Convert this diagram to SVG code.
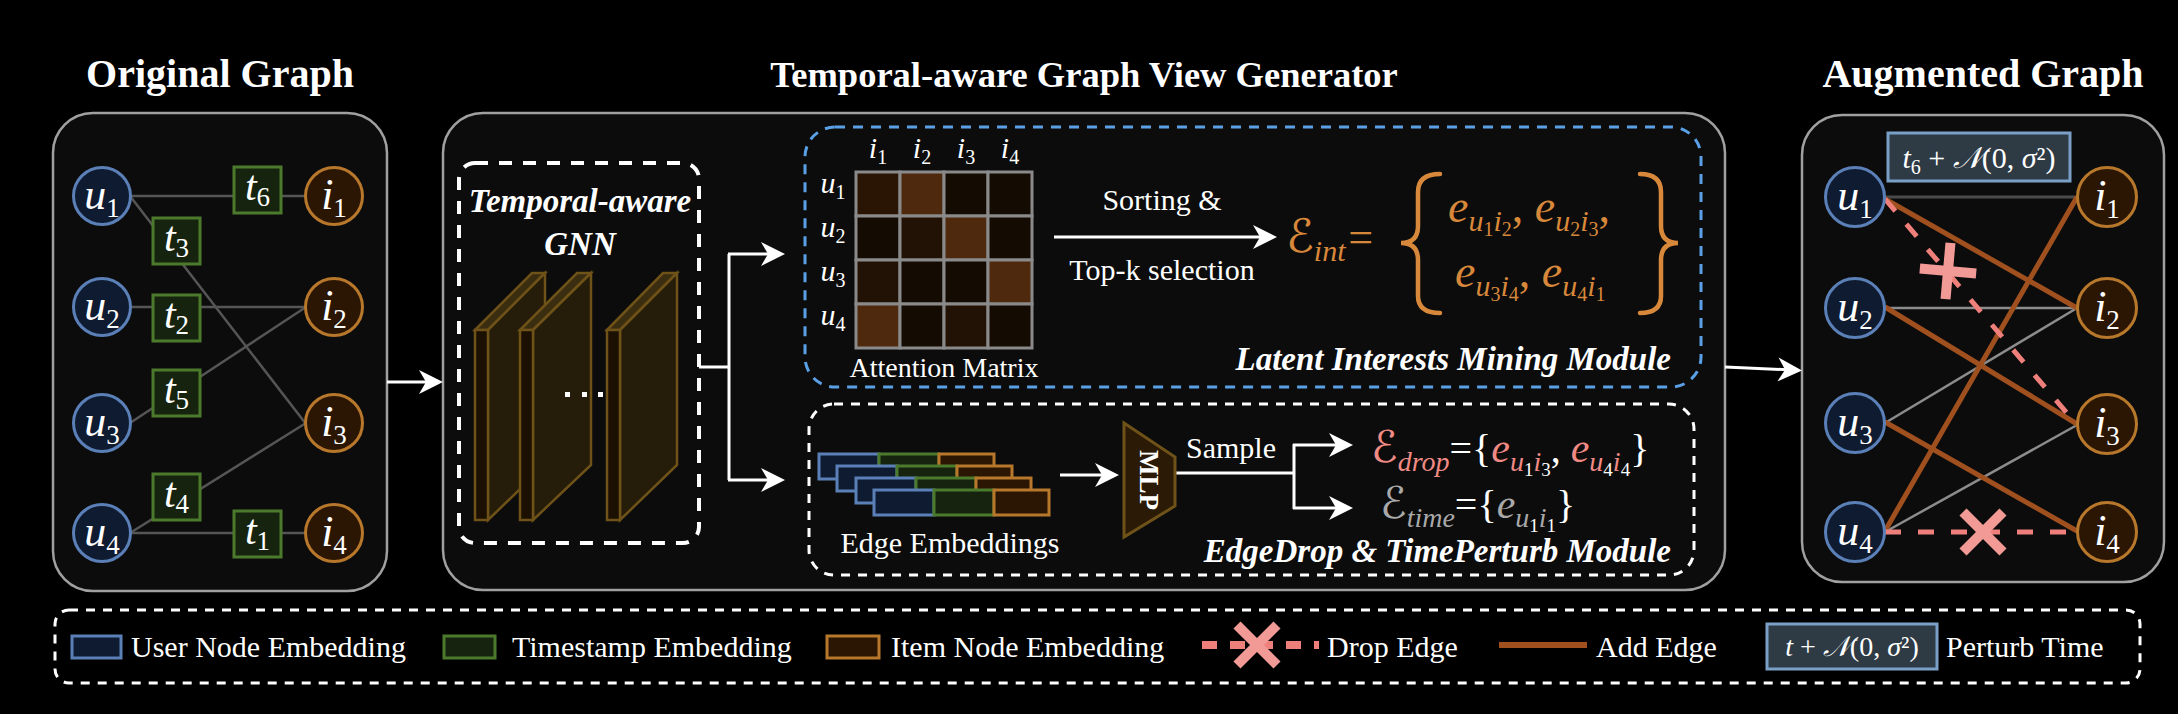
<svg xmlns="http://www.w3.org/2000/svg" width="2178" height="714" viewBox="0 0 2178 714">
<style>
.title{font-family:'Liberation Serif','Times New Roman',serif;font-weight:bold;font-size:40px;fill:#fff;text-anchor:middle}
.panel{fill:#0c0c0c;stroke:#a0a0a0;stroke-width:2.5}
.ml{font-family:'Liberation Serif','DejaVu Serif',serif;font-style:italic;fill:#fff;text-anchor:middle}
.up{font-style:normal}
.user{fill:#0f1b30;stroke:#5b80b8;stroke-width:3}
.item{fill:#2b1604;stroke:#b8782c;stroke-width:3}
.time{fill:#16240f;stroke:#4c7a2c;stroke-width:3}
.edge{stroke:#555;stroke-width:2.5;fill:none}
.arr{stroke:#fff;stroke-width:3;fill:none;marker-end:url(#ah)}
.txt{font-family:'Liberation Serif','Times New Roman',serif;fill:#fff}
.bi{font-family:'Liberation Serif','Times New Roman',serif;font-weight:bold;font-style:italic;fill:#fff}
.slabF{fill:#1c1003;stroke:#6e5218;stroke-width:2.5}
.slabS{fill:#251c09;stroke:#6e5218;stroke-width:2.5}
.slabT{fill:#3a2d10;stroke:#6e5218;stroke-width:2.5}
.cell{stroke:#8a8a8a;stroke-width:3}
.add{stroke:#a0501e;stroke-width:5;fill:none}
.drop{stroke:#ee7f7b;stroke-width:5;fill:none;stroke-dasharray:16 17}
.xm{stroke:#f29a96;stroke-width:10;fill:none}
.gl{stroke:#8c8c8c;stroke-width:2.5;fill:none}
.math{font-family:'Liberation Serif','DejaVu Serif',serif;font-style:italic}
.scr{font-family:'DejaVu Sans','Liberation Serif',serif;font-style:normal}
.pert{fill:#2e3a44;stroke:#7aa0c8;stroke-width:3}
</style>
<defs>
<marker id="ah" markerUnits="userSpaceOnUse" markerWidth="28" markerHeight="26" viewBox="-26 -13 28 26" refX="-10" refY="0" orient="auto">
<path d="M0,0 L-24,-12 L-17,0 L-24,12 Z" fill="#fff"/>
</marker>
</defs>
<rect width="2178" height="714" fill="#000"/>

<!-- titles -->
<text class="title" x="220" y="87">Original Graph</text>
<text class="title" x="1084" y="87" font-size="36.5" style="font-size:36.5px">Temporal-aware Graph View Generator</text>
<text class="title" x="1983" y="87">Augmented Graph</text>

<!-- panels -->
<g id="panel-original"><rect class="panel" x="53" y="113" width="334" height="478" rx="40"/></g>
<g id="panel-generator"><rect class="panel" x="443" y="113" width="1282" height="477" rx="40"/></g>
<g id="panel-augmented"><rect class="panel" x="1802" y="115" width="362" height="467" rx="40"/></g>

<!-- connectors -->
<g id="connectors">
  <!-- original graph edges -->
  <line class="edge" x1="130" y1="196" x2="306" y2="196"/>
  <line class="edge" x1="130" y1="196" x2="306" y2="424"/>
  <line class="edge" x1="130" y1="307" x2="306" y2="307"/>
  <line class="edge" x1="130" y1="423" x2="306" y2="307"/>
  <line class="edge" x1="130" y1="533" x2="306" y2="423"/>
  <line class="edge" x1="130" y1="533" x2="306" y2="533"/>
  <!-- flow arrows -->
  <line class="arr" x1="387" y1="382" x2="433" y2="382"/>
  <polyline points="699,367 729,367" stroke="#fff" stroke-width="3" fill="none"/>
  <line x1="729" y1="254" x2="729" y2="480" stroke="#fff" stroke-width="3"/>
  <line class="arr" x1="728" y1="254" x2="775" y2="254"/>
  <line class="arr" x1="728" y1="480" x2="775" y2="480"/>
  <line class="arr" x1="1054" y1="237" x2="1267" y2="237"/>
  <line class="arr" x1="1060" y1="475" x2="1109" y2="475"/>
  <line x1="1175" y1="473" x2="1294" y2="473" stroke="#fff" stroke-width="3"/>
  <line x1="1294" y1="444" x2="1294" y2="509" stroke="#fff" stroke-width="3"/>
  <line class="arr" x1="1293" y1="445" x2="1343" y2="445"/>
  <line class="arr" x1="1293" y1="508" x2="1343" y2="508"/>
  <line class="arr" x1="1725" y1="367" x2="1792" y2="370"/>
  <!-- augmented graph edges -->
  <line x1="1885" y1="197" x2="2077" y2="197" stroke="#4a4a4a" stroke-width="3"/>
  <line class="gl" x1="1885" y1="308" x2="2077" y2="308"/>
  <line class="gl" x1="1885" y1="423" x2="2077" y2="308"/>
  <line class="gl" x1="1885" y1="532" x2="2077" y2="425"/>
  <line class="add" x1="1885" y1="199" x2="2077" y2="308"/>
  <line class="add" x1="1885" y1="307" x2="2077" y2="424"/>
  <line class="add" x1="1885" y1="422" x2="2077" y2="531"/>
  <line class="add" x1="1885" y1="531" x2="2077" y2="197"/>
  <line class="drop" x1="1885" y1="199" x2="2077" y2="425"/>
  <line class="drop" x1="1885" y1="532" x2="2077" y2="532"/>
  <g transform="translate(1948,271) rotate(50)">
    <line class="xm" x1="-20" y1="-20" x2="20" y2="20"/>
    <line class="xm" x1="20" y1="-20" x2="-20" y2="20"/>
  </g>
  <g transform="translate(1983,532)">
    <line class="xm" x1="-20" y1="-20" x2="20" y2="20"/>
    <line class="xm" x1="20" y1="-20" x2="-20" y2="20"/>
  </g>
</g>

<!-- original graph nodes -->
<g id="orig-u1"><circle class="user" cx="102" cy="196" r="28.5"/><text class="ml" x="102" y="209" font-size="44">u<tspan class="up" font-size="27" dy="8">1</tspan></text></g>
<g id="orig-u2"><circle class="user" cx="102" cy="307" r="28.5"/><text class="ml" x="102" y="320" font-size="44">u<tspan class="up" font-size="27" dy="8">2</tspan></text></g>
<g id="orig-u3"><circle class="user" cx="102" cy="423" r="28.5"/><text class="ml" x="102" y="436" font-size="44">u<tspan class="up" font-size="27" dy="8">3</tspan></text></g>
<g id="orig-u4"><circle class="user" cx="102" cy="533" r="28.5"/><text class="ml" x="102" y="546" font-size="44">u<tspan class="up" font-size="27" dy="8">4</tspan></text></g>
<g id="orig-i1"><circle class="item" cx="334" cy="196" r="28.5"/><text class="ml" x="334" y="209" font-size="44">i<tspan class="up" font-size="27" dy="8">1</tspan></text></g>
<g id="orig-i2"><circle class="item" cx="334" cy="307" r="28.5"/><text class="ml" x="334" y="320" font-size="44">i<tspan class="up" font-size="27" dy="8">2</tspan></text></g>
<g id="orig-i3"><circle class="item" cx="334" cy="423" r="28.5"/><text class="ml" x="334" y="436" font-size="44">i<tspan class="up" font-size="27" dy="8">3</tspan></text></g>
<g id="orig-i4"><circle class="item" cx="334" cy="533" r="28.5"/><text class="ml" x="334" y="546" font-size="44">i<tspan class="up" font-size="27" dy="8">4</tspan></text></g>
<g id="orig-t6"><rect class="time" x="234" y="167" width="47" height="46"/><text class="ml" x="257.5" y="200" font-size="42">t<tspan class="up" font-size="27" dy="6">6</tspan></text></g>
<g id="orig-t3"><rect class="time" x="153" y="218" width="47" height="46"/><text class="ml" x="176.5" y="251" font-size="42">t<tspan class="up" font-size="27" dy="6">3</tspan></text></g>
<g id="orig-t2"><rect class="time" x="153" y="295" width="47" height="46"/><text class="ml" x="176.5" y="328" font-size="42">t<tspan class="up" font-size="27" dy="6">2</tspan></text></g>
<g id="orig-t5"><rect class="time" x="153" y="370" width="47" height="46"/><text class="ml" x="176.5" y="403" font-size="42">t<tspan class="up" font-size="27" dy="6">5</tspan></text></g>
<g id="orig-t4"><rect class="time" x="153" y="474" width="47" height="46"/><text class="ml" x="176.5" y="507" font-size="42">t<tspan class="up" font-size="27" dy="6">4</tspan></text></g>
<g id="orig-t1"><rect class="time" x="234" y="511" width="47" height="46"/><text class="ml" x="257.5" y="544" font-size="42">t<tspan class="up" font-size="27" dy="6">1</tspan></text></g>

<!-- Temporal-aware GNN -->
<g id="gnn">
  <rect x="459" y="163" width="240" height="380" rx="16" fill="none" stroke="#fff" stroke-width="4" stroke-dasharray="13 11"/>
  <text class="bi" x="580" y="212" font-size="33" text-anchor="middle">Temporal-aware</text>
  <text class="bi" x="580" y="255" font-size="33" text-anchor="middle">GNN</text>
  <polygon class="slabT" points="475,330 532,273 545,273 488,330"/>
  <polygon class="slabS" points="488,330 545,273 545,465 488,520"/>
  <rect class="slabF" x="475" y="330" width="13" height="190"/>
  <polygon class="slabT" points="520,330 577,273 591,273 533,330"/>
  <polygon class="slabS" points="533,330 591,273 591,465 533,520"/>
  <rect class="slabF" x="520" y="330" width="13" height="190"/>
  <rect x="565" y="392" width="5" height="5" fill="#fff"/>
  <rect x="582" y="392" width="5" height="5" fill="#fff"/>
  <rect x="598" y="392" width="5" height="5" fill="#fff"/>
  <polygon class="slabT" points="607,330 663,273 677,273 620,330"/>
  <polygon class="slabS" points="620,330 677,273 677,465 620,520"/>
  <rect class="slabF" x="607" y="330" width="13" height="190"/>
</g>

<!-- Latent Interests Mining Module -->
<g id="latent-module">
  <rect x="805" y="127" width="896" height="260" rx="30" fill="none" stroke="#5aa0e6" stroke-width="3" stroke-dasharray="10 8"/>
  <g id="attention-matrix">
    <rect class="cell" x="856" y="172" width="44" height="44" fill="#2a1505"/>
    <rect class="cell" x="900" y="172" width="44" height="44" fill="#4f290d"/>
    <rect class="cell" x="944" y="172" width="44" height="44" fill="#140b03"/>
    <rect class="cell" x="988" y="172" width="44" height="44" fill="#140b03"/>
    <rect class="cell" x="856" y="216" width="44" height="44" fill="#140b03"/>
    <rect class="cell" x="900" y="216" width="44" height="44" fill="#221205"/>
    <rect class="cell" x="944" y="216" width="44" height="44" fill="#4f290d"/>
    <rect class="cell" x="988" y="216" width="44" height="44" fill="#140b03"/>
    <rect class="cell" x="856" y="260" width="44" height="44" fill="#221205"/>
    <rect class="cell" x="900" y="260" width="44" height="44" fill="#140b03"/>
    <rect class="cell" x="944" y="260" width="44" height="44" fill="#140b03"/>
    <rect class="cell" x="988" y="260" width="44" height="44" fill="#4f290d"/>
    <rect class="cell" x="856" y="304" width="44" height="44" fill="#4f290d"/>
    <rect class="cell" x="900" y="304" width="44" height="44" fill="#140b03"/>
    <rect class="cell" x="944" y="304" width="44" height="44" fill="#221205"/>
    <rect class="cell" x="988" y="304" width="44" height="44" fill="#140b03"/>
    <text class="ml" x="878" y="158" font-size="30">i<tspan class="up" font-size="20" dy="6">1</tspan></text>
    <text class="ml" x="922" y="158" font-size="30">i<tspan class="up" font-size="20" dy="6">2</tspan></text>
    <text class="ml" x="966" y="158" font-size="30">i<tspan class="up" font-size="20" dy="6">3</tspan></text>
    <text class="ml" x="1010" y="158" font-size="30">i<tspan class="up" font-size="20" dy="6">4</tspan></text>
    <text class="ml" x="833" y="193" font-size="30">u<tspan class="up" font-size="20" dy="6">1</tspan></text>
    <text class="ml" x="833" y="237" font-size="30">u<tspan class="up" font-size="20" dy="6">2</tspan></text>
    <text class="ml" x="833" y="281" font-size="30">u<tspan class="up" font-size="20" dy="6">3</tspan></text>
    <text class="ml" x="833" y="325" font-size="30">u<tspan class="up" font-size="20" dy="6">4</tspan></text>
    <text class="txt" x="944" y="377" font-size="28" text-anchor="middle">Attention Matrix</text>
  </g>
  <text class="txt" x="1162" y="210" font-size="30" text-anchor="middle">Sorting &amp;</text>
  <text class="txt" x="1162" y="280" font-size="30" text-anchor="middle">Top-k selection</text>
  <g id="e-int" fill="#d8883a">
    <text x="1286" y="252" font-size="46"><tspan class="scr">ℰ</tspan><tspan class="math" font-size="30" dy="9">int</tspan><tspan class="math" font-size="44" dy="-9" font-style="normal">=</tspan></text>
    <path d="M1440,174 Q1418,174 1418,192 L1418,226 Q1418,243 1401,243 Q1418,243 1418,260 L1418,296 Q1418,313 1440,313" fill="none" stroke="#d8883a" stroke-width="4.5" stroke-linecap="round"/>
    <path d="M1640,174 Q1661,174 1661,192 L1661,226 Q1661,243 1678,243 Q1661,243 1661,260 L1661,296 Q1661,313 1640,313" fill="none" stroke="#d8883a" stroke-width="4.5" stroke-linecap="round"/>
    <text class="math" x="1448" y="222" font-size="46">e<tspan font-size="30" dy="9">u</tspan><tspan class="up" font-size="20" dy="5">1</tspan><tspan font-size="30" dy="-5">i</tspan><tspan class="up" font-size="20" dy="5">2</tspan><tspan class="up" dy="-14">, </tspan>e<tspan font-size="30" dy="9">u</tspan><tspan class="up" font-size="20" dy="5">2</tspan><tspan font-size="30" dy="-5">i</tspan><tspan class="up" font-size="20" dy="5">3</tspan><tspan class="up" dy="-14">,</tspan></text>
    <text class="math" x="1455" y="287" font-size="46">e<tspan font-size="30" dy="9">u</tspan><tspan class="up" font-size="20" dy="5">3</tspan><tspan font-size="30" dy="-5">i</tspan><tspan class="up" font-size="20" dy="5">4</tspan><tspan class="up" dy="-14">, </tspan>e<tspan font-size="30" dy="9">u</tspan><tspan class="up" font-size="20" dy="5">4</tspan><tspan font-size="30" dy="-5">i</tspan><tspan class="up" font-size="20" dy="5">1</tspan></text>
  </g>
  <text class="bi" x="1671" y="370" font-size="33" text-anchor="end">Latent Interests Mining Module</text>
</g>

<!-- EdgeDrop & TimePerturb Module -->
<g id="edgedrop-module">
  <rect x="809" y="404" width="885" height="171" rx="25" fill="none" stroke="#fff" stroke-width="3" stroke-dasharray="9 8"/>
  <g id="edge-embeddings">
    <rect class="user" x="819" y="454" width="60" height="25"/><rect class="time" x="879" y="454" width="60" height="25"/><rect class="item" x="939" y="454" width="55" height="25"/>
    <rect class="user" x="837" y="466" width="60" height="25"/><rect class="time" x="897" y="466" width="60" height="25"/><rect class="item" x="957" y="466" width="55" height="25"/>
    <rect class="user" x="856" y="478" width="60" height="25"/><rect class="time" x="916" y="478" width="60" height="25"/><rect class="item" x="976" y="478" width="55" height="25"/>
    <rect class="user" x="874" y="490" width="60" height="25"/><rect class="time" x="934" y="490" width="60" height="25"/><rect class="item" x="994" y="490" width="55" height="25"/>
    <text class="txt" x="950" y="553" font-size="30" text-anchor="middle">Edge Embeddings</text>
  </g>
  <g id="mlp">
    <polygon points="1124,423 1175,457 1175,506 1124,537" fill="#2a1a06" stroke="#6e5218" stroke-width="3"/>
    <text class="txt" transform="translate(1149,480) rotate(90)" y="9" font-size="27" font-weight="bold" text-anchor="middle">MLP</text>
  </g>
  <text class="txt" x="1231" y="458" font-size="30" text-anchor="middle">Sample</text>
  <text x="1371" y="462" font-size="44" fill="#f08a84"><tspan class="scr">ℰ</tspan><tspan class="math" font-size="28" dy="9">drop</tspan><tspan class="txt" fill="#f08a84" font-size="40" dy="-9">={</tspan><tspan class="math" font-size="42">e</tspan><tspan class="math" font-size="28" dy="9">u</tspan><tspan class="txt" fill="#f08a84" font-size="19" dy="5">1</tspan><tspan class="math" font-size="28" dy="-5">i</tspan><tspan class="txt" fill="#f08a84" font-size="19" dy="5">3</tspan><tspan class="txt" fill="#f08a84" font-size="40" dy="-14">, </tspan><tspan class="math" font-size="42">e</tspan><tspan class="math" font-size="28" dy="9">u</tspan><tspan class="txt" fill="#f08a84" font-size="19" dy="5">4</tspan><tspan class="math" font-size="28" dy="-5">i</tspan><tspan class="txt" fill="#f08a84" font-size="19" dy="5">4</tspan><tspan class="txt" fill="#f08a84" font-size="40" dy="-14">}</tspan></text>
  <text x="1380" y="518" font-size="44" fill="#a9a9a9"><tspan class="scr">ℰ</tspan><tspan class="math" font-size="28" dy="9">time</tspan><tspan class="txt" fill="#a9a9a9" font-size="40" dy="-9">={</tspan><tspan class="math" font-size="42">e</tspan><tspan class="math" font-size="28" dy="9">u</tspan><tspan class="txt" fill="#a9a9a9" font-size="19" dy="5">1</tspan><tspan class="math" font-size="28" dy="-5">i</tspan><tspan class="txt" fill="#a9a9a9" font-size="19" dy="5">1</tspan><tspan class="txt" fill="#a9a9a9" font-size="40" dy="-14">}</tspan></text>
  <text class="bi" x="1671" y="562" font-size="33" text-anchor="end">EdgeDrop &amp; TimePerturb Module</text>
</g>

<!-- augmented graph nodes -->
<g id="aug-t6"><rect class="pert" x="1888" y="133" width="182" height="48"/><text class="ml" x="1979" y="168" font-size="30">t<tspan class="up" font-size="20" dy="6">6</tspan><tspan class="up" dy="-6"> + </tspan><tspan>𝒩</tspan><tspan class="up">(0, </tspan>σ<tspan class="up">²)</tspan></text></g>
<g id="aug-u1"><circle class="user" cx="1855" cy="197" r="29.5"/><text class="ml" x="1855" y="210" font-size="44">u<tspan class="up" font-size="27" dy="8">1</tspan></text></g>
<g id="aug-u2"><circle class="user" cx="1855" cy="308" r="29.5"/><text class="ml" x="1855" y="321" font-size="44">u<tspan class="up" font-size="27" dy="8">2</tspan></text></g>
<g id="aug-u3"><circle class="user" cx="1855" cy="423" r="29.5"/><text class="ml" x="1855" y="436" font-size="44">u<tspan class="up" font-size="27" dy="8">3</tspan></text></g>
<g id="aug-u4"><circle class="user" cx="1855" cy="532" r="29.5"/><text class="ml" x="1855" y="545" font-size="44">u<tspan class="up" font-size="27" dy="8">4</tspan></text></g>
<g id="aug-i1"><circle class="item" cx="2107" cy="197" r="29.5"/><text class="ml" x="2107" y="210" font-size="44">i<tspan class="up" font-size="27" dy="8">1</tspan></text></g>
<g id="aug-i2"><circle class="item" cx="2107" cy="308" r="29.5"/><text class="ml" x="2107" y="321" font-size="44">i<tspan class="up" font-size="27" dy="8">2</tspan></text></g>
<g id="aug-i3"><circle class="item" cx="2107" cy="424" r="29.5"/><text class="ml" x="2107" y="437" font-size="44">i<tspan class="up" font-size="27" dy="8">3</tspan></text></g>
<g id="aug-i4"><circle class="item" cx="2107" cy="532" r="29.5"/><text class="ml" x="2107" y="545" font-size="44">i<tspan class="up" font-size="27" dy="8">4</tspan></text></g>

<!-- legend -->
<g id="legend">
  <rect x="55" y="610" width="2085" height="73" rx="14" fill="none" stroke="#fff" stroke-width="3" stroke-dasharray="9 8"/>
  <rect class="user" x="72" y="636" width="49" height="22"/>
  <text class="txt" x="131" y="657" font-size="30">User Node Embedding</text>
  <rect class="time" x="444" y="636" width="51" height="22"/>
  <text class="txt" x="512" y="657" font-size="30">Timestamp Embedding</text>
  <rect class="item" x="827" y="636" width="52" height="22"/>
  <text class="txt" x="891" y="657" font-size="30">Item Node Embedding</text>
  <line x1="1202" y1="645" x2="1319" y2="645" stroke="#ee7f7b" stroke-width="8" stroke-dasharray="15 13"/>
  <line class="xm" x1="1237" y1="625" x2="1277" y2="665"/>
  <line class="xm" x1="1277" y1="625" x2="1237" y2="665"/>
  <text class="txt" x="1327" y="657" font-size="30">Drop Edge</text>
  <line x1="1499" y1="645" x2="1587" y2="645" stroke="#a0501e" stroke-width="6"/>
  <text class="txt" x="1596" y="657" font-size="30">Add Edge</text>
  <rect class="pert" x="1767" y="624" width="170" height="45"/>
  <text class="ml" x="1852" y="656" font-size="28">t<tspan class="up"> + </tspan>𝒩<tspan class="up">(0, </tspan>σ<tspan class="up">²)</tspan></text>
  <text class="txt" x="1946" y="657" font-size="30">Perturb Time</text>
</g>
</svg>
